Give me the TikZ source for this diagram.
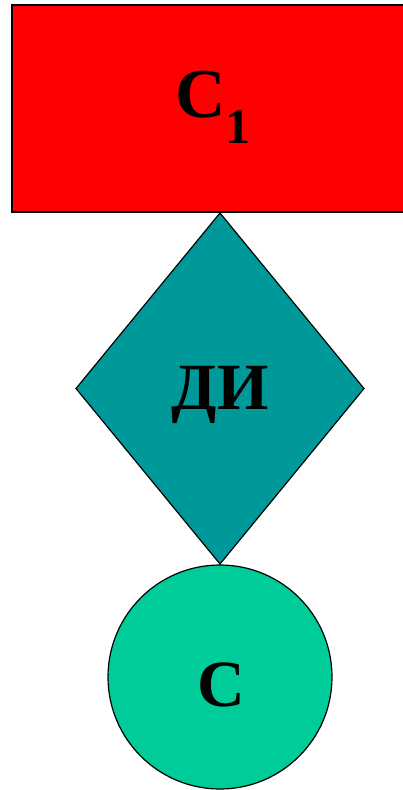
\documentclass[tikz,border=0pt]{standalone}
\usepackage{fontspec}
\setmainfont{Liberation Serif}
\usepackage{tikz}
\usetikzlibrary{positioning, shapes.geometric}
\definecolor{boxred}{HTML}{FF0000}
\definecolor{diteal}{HTML}{009999}
\definecolor{cmint}{HTML}{00CC99}

\begin{document}
\begin{tikzpicture}[x=1pt, y=-1pt, every node/.style={inner sep=0pt, outer sep=0pt},
    bigtext/.style={font=\bfseries\fontsize{66}{72}\selectfont, anchor=base}]
    \useasboundingbox (0,0) rectangle (402,790);
    \node[draw=black, line width=2.2pt, fill=boxred, minimum width=392pt, minimum height=207pt] (top) at (208,108.5) {};
    \node[diamond, draw=black, line width=1.2pt, fill=diteal, minimum width=288pt, minimum height=351pt] (di) at (220,388.5) {};
    \node[circle, draw=black, line width=1.2pt, fill=cmint, minimum size=224pt] (cc) at (220,677) {};
    \node[bigtext, font=\bfseries\fontsize{70}{76}\selectfont] (toplabel) at (213,117) {C\raisebox{-26pt}{\fontsize{50}{54}\selectfont 1}};
    \node[bigtext] (dilabel) at (220,409) {ДИ};
    \node[bigtext] (cclabel) at (221,706) {С};
  \end{tikzpicture}
\end{document}
